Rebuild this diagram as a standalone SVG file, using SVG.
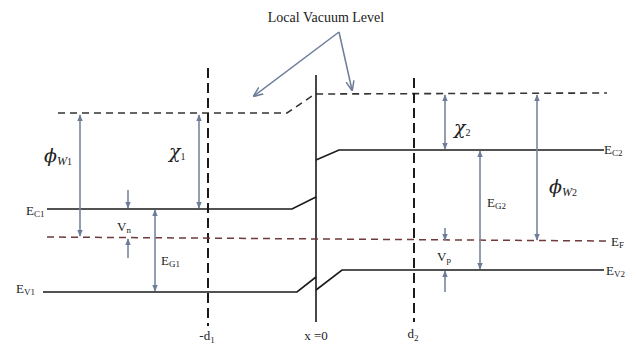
<svg xmlns="http://www.w3.org/2000/svg" width="637" height="350" viewBox="0 0 637 350">
<defs>
<marker id="ah" viewBox="0 0 10 10" refX="9" refY="5" markerWidth="7" markerHeight="7" orient="auto-start-reverse" markerUnits="userSpaceOnUse">
<path d="M0,1 L10,5 L0,9 z" fill="#6d7d99"/>
</marker>
<marker id="av" viewBox="0 0 10 10" refX="9" refY="5" markerWidth="10" markerHeight="10" orient="auto" markerUnits="userSpaceOnUse">
<path d="M0,1 L10,5 L0,9" fill="none" stroke="#6d7d99" stroke-width="1.5"/>
</marker>
</defs>
<style>
.band{fill:none;stroke:#1a1a1a;stroke-width:1.6}
.vac{fill:none;stroke:#333;stroke-width:1.6;stroke-dasharray:7,5}
.ef{fill:none;stroke:#6e3a3a;stroke-width:1.5;stroke-dasharray:7,5}
.vd{fill:none;stroke:#1a1a1a;stroke-width:2;stroke-dasharray:10,5}
.arr{fill:none;stroke:#7886a0;stroke-width:1.6;marker-end:url(#ah)}
.darr{fill:none;stroke:#7886a0;stroke-width:1.6;marker-start:url(#ah);marker-end:url(#ah)}
.ptr{fill:none;stroke:#6d7d99;stroke-width:1.5}
text{font-family:"Liberation Serif","Times New Roman",serif;fill:#222}
.lbl{font-size:13px}
.sub{font-size:9px}
.greek{font-family:"DejaVu Serif","Liberation Serif",serif;font-size:19px;font-style:italic}
.gsub{font-family:"Liberation Serif",serif;font-size:12px;font-style:italic}
.nsub{font-family:"Liberation Serif",serif;font-size:10px;font-style:normal}
</style>
<rect width="637" height="350" fill="#fff"/>

<g id="title">
<text x="326" y="22" font-size="14" text-anchor="middle">Local Vacuum Level</text>
<path class="ptr" d="M339,32 L254,96" marker-end="url(#av)"/>
<path class="ptr" d="M339,32 L352,90" marker-end="url(#av)"/>
</g>

<g id="vacuum-level">
<polyline class="vac" points="58,113 287,113 315,94 607,93"/>
</g>

<g id="interface">
<line x1="316" y1="75" x2="316" y2="322" stroke="#1a1a1a" stroke-width="1.6"/>
<text x="316" y="340" class="lbl" text-anchor="middle">x =0</text>
</g>

<g id="minus-d1">
<line class="vd" x1="208" y1="68" x2="208" y2="326"/>
<text x="207" y="340" class="lbl" text-anchor="middle">-d<tspan class="sub" dy="3">1</tspan></text>
</g>

<g id="d2">
<line class="vd" x1="414" y1="78" x2="414" y2="322"/>
<text x="413" y="338" class="lbl" text-anchor="middle">d<tspan class="sub" dy="3">2</tspan></text>
</g>

<g id="Ec1">
<polyline class="band" points="47,209 292,209 316,197"/>
<text x="26" y="215" class="lbl">E<tspan class="sub" dy="2">C1</tspan></text>
</g>

<g id="Ev1">
<polyline class="band" points="43,292 297,292 316,277"/>
<text x="16" y="293" class="lbl">E<tspan class="sub" dy="2">V1</tspan></text>
</g>

<g id="Ec2">
<polyline class="band" points="316,160 339,150 604,150"/>
<text x="604" y="154" class="lbl">E<tspan class="sub" dy="2">C2</tspan></text>
</g>

<g id="Ev2">
<polyline class="band" points="316,290 342,270 604,270"/>
<text x="606" y="275" class="lbl">E<tspan class="sub" dy="2">V2</tspan></text>
</g>

<g id="Ef">
<line class="ef" x1="47" y1="237" x2="607" y2="241"/>
<text x="611" y="246" class="lbl">E<tspan class="sub" dy="2">F</tspan></text>
</g>

<g id="connectors">
<line class="darr" x1="80" y1="115" x2="80" y2="236"/>
<line class="darr" x1="199" y1="115" x2="199" y2="208"/>
<line class="arr" x1="128" y1="190" x2="128" y2="208"/>
<line class="arr" x1="128" y1="258" x2="128" y2="239"/>
<line class="darr" x1="155" y1="210" x2="155" y2="291"/>
<line class="darr" x1="445" y1="95" x2="445" y2="149"/>
<line class="darr" x1="480" y1="151" x2="480" y2="269"/>
<line class="darr" x1="537" y1="95" x2="537" y2="240"/>
<line class="arr" x1="445" y1="228" x2="445" y2="240"/>
<line class="arr" x1="445" y1="292" x2="445" y2="271"/>
</g>

<g id="labels">
<text x="44" y="162" class="greek">ϕ<tspan class="gsub" dy="3">W</tspan><tspan class="nsub">1</tspan></text>
<text x="169" y="158" class="greek">χ<tspan class="nsub" dy="2">1</tspan></text>
<text x="117" y="231" class="lbl">V<tspan class="sub" dy="2">n</tspan></text>
<text x="161" y="265" class="lbl">E<tspan class="sub" dy="2">G1</tspan></text>
<text x="454" y="134" class="greek">χ<tspan class="nsub" font-size="13" dy="2">2</tspan></text>
<text x="487" y="207" class="lbl">E<tspan class="sub" dy="2">G2</tspan></text>
<text x="549" y="193" class="greek">ϕ<tspan class="gsub" dy="3">W</tspan><tspan class="nsub">2</tspan></text>
<text x="437" y="261" class="lbl">V<tspan class="sub" dy="2">p</tspan></text>
</g>
</svg>
